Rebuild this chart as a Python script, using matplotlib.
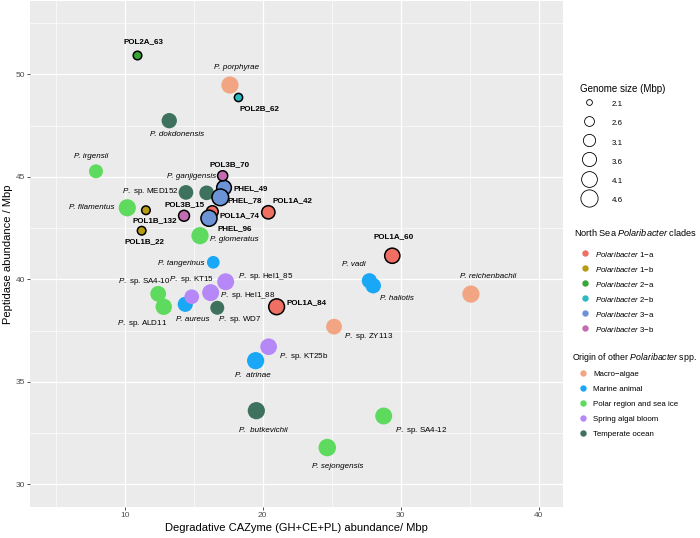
import matplotlib
matplotlib.use("Agg")
import numpy as np
import matplotlib.pyplot as plt
from matplotlib.lines import Line2D

plt.rcParams['font.family'] = ['Liberation Sans', 'DejaVu Sans']
plt.rcParams['mathtext.fontset'] = 'custom'
plt.rcParams['mathtext.it'] = 'Liberation Sans:italic'
plt.rcParams['mathtext.rm'] = 'Liberation Sans'
plt.rcParams['mathtext.bf'] = 'Liberation Sans:bold'

# genomes: name, CAZyme/Mbp, peptidase/Mbp, genome size (Mbp), clade or origin
names = ['POL2A_63', 'P. porphyrae', 'POL2B_62', 'P. dokdonensis', 'P. irgensii',
         'POL3B_70', 'P. ganjigensis', 'P. sp. MED152', 'PHEL_49', 'PHEL_78',
         'POL1A_42', 'POL1A_74', 'PHEL_96', 'POL3B_15', 'P. filamentus',
         'POL1B_132', 'POL1B_22', 'P. glomeratus', 'P. tangerinus', 'P. sp. Hel1_85',
         'P. sp. KT15', 'P. sp. Hel1_88', 'P. sp. SA4-10', 'P. sp. ALD11', 'P. aureus',
         'P. sp. WD7', 'POL1A_84', 'POL1A_60', 'P. vadi', 'P. haliotis',
         'P. sp. ZY113', 'P. reichenbachii', 'P. sp. KT25b', 'P.  atrinae',
         'P.  butkevichii', 'P. sp. SA4-12', 'P. sejongensis']
cazyme = [10.91, 17.63, 18.21, 13.23, 7.92,
          17.10, 15.94, 14.44, 17.20, 16.93,
          20.41, 16.35, 16.11, 14.30, 10.19,
          11.54, 11.23, 15.46, 16.42, 17.32,
          14.86, 16.23, 12.43, 12.83, 14.39,
          16.71, 21.01, 29.39, 27.73, 28.01,
          25.17, 35.09, 20.43, 19.49,
          19.54, 28.77, 24.68]
peptidase = [50.94, 49.48, 48.88, 47.74, 45.27,
             45.05, 44.22, 44.24, 44.47, 44.00,
             43.27, 43.30, 42.98, 43.10, 43.49,
             43.37, 42.37, 42.13, 40.83, 39.88,
             39.15, 39.35, 39.29, 38.66, 38.78,
             38.61, 38.66, 41.15, 39.93, 39.69,
             37.69, 39.28, 36.71, 36.03,
             33.59, 33.33, 31.79]
genome = [2.4, 4.6, 2.35, 3.95, 3.55,
          2.65, 3.75, 3.75, 3.75, 4.4,
          3.35, 3.0, 4.2, 2.8, 4.6,
          2.4, 2.4, 4.6, 3.2, 4.5,
          3.75, 4.5, 4.1, 4.3, 3.9,
          3.55, 4.1, 3.9, 3.9, 4.0,
          4.1, 4.6, 4.4, 4.6,
          4.6, 4.5, 4.7]
group = ['2-a', 'Macro-algae', '2-b', 'Temperate ocean', 'Polar region and sea ice',
         '3-b', 'Temperate ocean', 'Temperate ocean', '3-a', '3-a',
         '1-a', '1-a', '3-a', '3-b', 'Polar region and sea ice',
         '1-b', '1-b', 'Polar region and sea ice', 'Marine animal', 'Spring algal bloom',
         'Spring algal bloom', 'Spring algal bloom', 'Polar region and sea ice',
         'Polar region and sea ice', 'Marine animal',
         'Temperate ocean', '1-a', '1-a', 'Marine animal', 'Marine animal',
         'Macro-algae', 'Macro-algae', 'Spring algal bloom', 'Marine animal',
         'Temperate ocean', 'Polar region and sea ice', 'Polar region and sea ice']

clades = ['1-a', '1-b', '2-a', '2-b', '3-a', '3-b']
origins = ['Macro-algae', 'Marine animal', 'Polar region and sea ice',
           'Spring algal bloom', 'Temperate ocean']
size_breaks = [2.1, 2.6, 3.1, 3.6, 4.1, 4.6]

colors = {'1-a': '#EF6F63', '1-b': '#B59C12', '2-a': '#36A636', '2-b': '#2BBAC2',
          '3-a': '#6B93D6', '3-b': '#C46CB1',
          'Macro-algae': '#F2A583', 'Marine animal': '#1AA7F5',
          'Polar region and sea ice': '#5EDB5E', 'Spring algal bloom': '#B687F7',
          'Temperate ocean': '#3E725F'}

# label offsets from the point, in pixels (right, down)
label_offsets = [(6.7, -13), (7, -18), (21, 11.4), (7.4, 14.3), (-5.3, -14.6),
                 (7.3, -11), (-15, -16), (-35.3, -0.6), (26.8, 0.6), (24.7, 3.7),
                 (24.5, -11.3), (27.2, 3.6), (25.8, 10), (0.8, -10.7), (-36, 0),
                 (8.7, 10.7), (2.6, 11.3), (34.5, 4.3), (-32.3, 0.7), (39.6, -5),
                 (0, -17.4), (36.8, 2.6), (-14.5, -12.6), (-21.2, 16.3), (7.4, 14.7),
                 (22.7, 11.3), (30.3, -4.4), (1.4, -19.4), (-15.5, -16), (24, 13),
                 (34.8, 10), (17, -17.3), (35.1, 10), (-2.4, 15.3),
                 (6.9, 20), (37.3, 14.7), (10.5, 19)]


def diameter(g):
    frac = np.clip((np.asarray(g, dtype=float) - 2.0) / 2.7, 0, 1)
    return (3 + 14.5 * np.sqrt(frac)) * 0.72   # points


def label_text(name, grp):
    if grp in clades:
        return name, dict(fontweight='bold')
    if ' sp. ' in name:
        return r'$\it{P.}$' + name[2:], {}
    return name, dict(fontstyle='italic')


fig = plt.figure(figsize=(7, 5.38), dpi=100)
ax = fig.add_axes([30 / 700, 31 / 538, 532.7 / 700, 506 / 538])
ax.set_facecolor('#EBEBEB')
for s in ax.spines.values():
    s.set_visible(False)

ax.set_xlim(3.14, 41.74)
ax.set_ylim(28.89, 53.58)
ax.set_xticks([10, 20, 30, 40])
ax.set_yticks([30, 35, 40, 45, 50])
ax.set_xticks([5, 15, 25, 35], minor=True)
ax.set_yticks([32.5, 37.5, 42.5, 47.5, 52.5], minor=True)
ax.grid(which='major', color='white', lw=0.9)
ax.grid(which='minor', color='white', lw=0.45)
ax.set_axisbelow(True)
ax.tick_params(which='major', length=2.4, width=0.6, color='#333333',
               labelsize=6, labelcolor='#4D4D4D', pad=1.2)
ax.tick_params(which='minor', length=0)

x = np.array(cazyme)
y = np.array(peptidase)
grp = np.array(group)
sizes = diameter(genome) ** 2

for g in origins:
    m = grp == g
    ax.scatter(x[m], y[m], s=sizes[m], color=colors[g], linewidths=0, zorder=3)
for g in clades:
    m = grp == g
    ax.scatter(x[m], y[m], s=sizes[m], color=colors[g], edgecolors='black',
               linewidths=1.1, zorder=4)

for name, xi, yi, g, (dx, dy) in zip(names, cazyme, peptidase, group, label_offsets):
    txt, kw = label_text(name, g)
    ax.annotate(txt, (xi, yi), xytext=(dx * 0.72, -dy * 0.72), textcoords='offset points',
                ha='center', va='center', fontsize=5.8, color='black', zorder=5, **kw)

fig.text(296 / 700, 1 - 528 / 538, 'Degradative CAZyme (GH+CE+PL) abundance/ Mbp',
         ha='center', va='center', fontsize=8)
fig.text(8 / 700, 1 - 254 / 538, 'Peptidase abundance / Mbp', rotation=90,
         ha='center', va='center', fontsize=8)

# legends
fig.text(580 / 700, 1 - 89 / 538, 'Genome size (Mbp)', ha='left', va='center', fontsize=7)
size_handles = [Line2D([], [], ls='', marker='o', markerfacecolor='none',
                       markeredgecolor='black', markeredgewidth=0.6,
                       markersize=float(diameter(b))) for b in size_breaks]
leg1 = fig.legend(size_handles, [str(b) for b in size_breaks], loc='upper left',
                  bbox_to_anchor=(579.5 / 700, 1 - 97.5 / 538), frameon=False,
                  fontsize=5.7, borderpad=0, borderaxespad=0, handlelength=2.4,
                  handleheight=2.0, labelspacing=0.88, handletextpad=1.67)

fig.text(574 / 700, 1 - 232 / 538, r'North Sea $\it{Polaribacter}$ clades',
         ha='left', va='center', fontsize=6.6)
clade_handles = [Line2D([], [], ls='', marker='o', markersize=4.6,
                        markerfacecolor=colors[c], markeredgewidth=0) for c in clades]
leg2 = fig.legend(clade_handles, [r'$\it{Polaribacter}$ ' + c.replace('-', '\u2212') for c in clades],
                  loc='upper left', bbox_to_anchor=(580.3 / 700, 1 - 249.5 / 538),
                  frameon=False, fontsize=5.7, borderpad=0, borderaxespad=0,
                  handlelength=1.2, handleheight=1.3, labelspacing=0.77,
                  handletextpad=0.66)

fig.text(572 / 700, 1 - 357 / 538, r'Origin of other $\it{Polaribacter}$ spp.',
         ha='left', va='center', fontsize=6.3)
origin_handles = [Line2D([], [], ls='', marker='o', markersize=4.6,
                         markerfacecolor=colors[o], markeredgewidth=0) for o in origins]
leg3 = fig.legend(origin_handles, [o.replace('-', '\u2212') for o in origins],
                  loc='upper left', bbox_to_anchor=(578.3 / 700, 1 - 369.2 / 538),
                  frameon=False, fontsize=5.7, borderpad=0, borderaxespad=0,
                  handlelength=1.2, handleheight=1.3, labelspacing=0.77,
                  handletextpad=0.66)

fig.savefig('out.png', dpi=100)
